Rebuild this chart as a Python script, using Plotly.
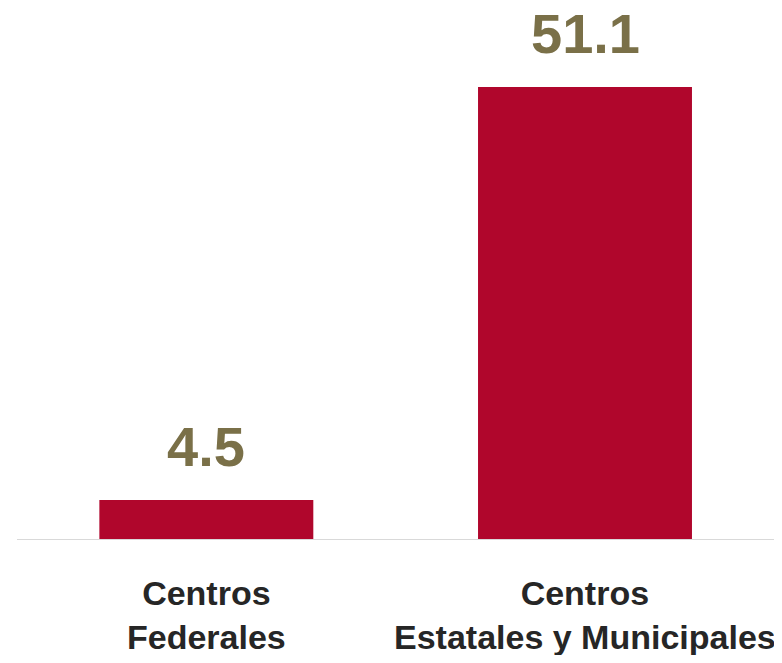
import plotly.graph_objects as go

categories = ["Centros<br>Federales", "Centros<br>Estatales y Municipales"]
values = [4.5, 51.1]
value_labels = ["4.5", "51.1"]

bar_color = "#B0062C"
value_color = "#7A7048"
label_color = "#262626"

fig = go.Figure()

fig.add_trace(go.Bar(
    x=categories,
    y=values,
    marker_color=bar_color,
    marker_line_width=0,
    hoverinfo="skip",
))

# value labels above bars, category labels below the baseline
for cat, val, txt in zip(categories, values, value_labels):
    fig.add_annotation(
        x=cat, y=val, text=txt, showarrow=False,
        yanchor="bottom", yshift=20,
        font=dict(family="Liberation Sans", size=56, color=value_color),
    )
    fig.add_annotation(
        x=cat, y=0, text=cat, showarrow=False,
        yanchor="top", yshift=-32,
        font=dict(family="Liberation Sans", size=34, color=label_color),
    )

# baseline
fig.add_shape(
    type="line", xref="paper", yref="y",
    x0=0, x1=1.03, y0=0, y1=0,
    line=dict(color="#D9D9D9", width=2),
)

fig.update_layout(
    width=771, height=647,
    margin=dict(l=9, r=1, t=0.5, b=115),
    paper_bgcolor="white",
    plot_bgcolor="white",
    bargap=0.435,
    showlegend=False,
    xaxis=dict(showticklabels=False, showgrid=False, zeroline=False, showline=False),
    yaxis=dict(range=[0, 59.9], visible=False, showgrid=False, zeroline=False),
)

fig.update_annotations(font_weight="bold")

fig.write_html("out.html")
